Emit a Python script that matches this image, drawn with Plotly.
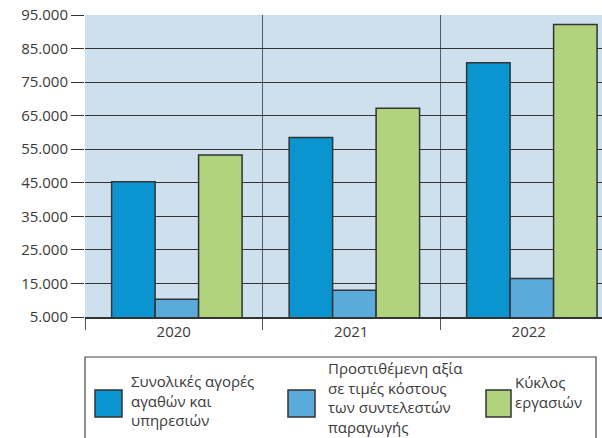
import plotly.graph_objects as go

years = ["2020", "2021", "2022"]
purchases = [45300, 58500, 80800]
value_added = [10300, 13000, 16500]
turnover = [53300, 67200, 92200]

series_names = [
    ["Συνολικές αγορές", "αγαθών και", "υπηρεσιών"],
    ["Προστιθέμενη αξία", "σε τιμές κόστους", "των συντελεστών", "παραγωγής"],
    ["Κύκλος", "εργασιών"],
]
colors = ["#0a95d0", "#5aaadb", "#b2d37d"]

y_ticks = [5000, 15000, 25000, 35000, 45000, 55000, 65000, 75000, 85000, 95000]
y_tick_labels = ["5.000", "15.000", "25.000", "35.000", "45.000",
                 "55.000", "65.000", "75.000", "85.000", "95.000"]

W, H = 602, 438
# plot area in window pixels: x 85..602 (cut off at right), y 15..317
L, R, T, B = 85, 0, 15, 438 - 317
PW, PH = W - L - R, H - T - B
CAT_PX = 177.5  # pixel width of one category in the reference
FONT = "Open Sans"
TXT = "#3a3a3a"


def px(x):
    return (x - L) / PW


def py(y):
    return (H - B - y) / PH


bar_w = 0.245
group_start = -0.35
fig = go.Figure()
for i, (vals, c, nm) in enumerate(zip([purchases, value_added, turnover], colors, series_names)):
    fig.add_trace(go.Bar(
        x=years, y=vals, name=" ".join(nm), marker_color=c,
        width=bar_w, offset=group_start + i * bar_w,
        marker_line=dict(color="#333333", width=1.5), showlegend=False,
    ))

shapes = [
    dict(type="rect", xref="paper", yref="paper", x0=px(85), x1=px(596),
         y0=py(357), y1=py(450), line=dict(color="#444444", width=1.2),
         fillcolor="rgba(0,0,0,0)", layer="above"),
]
annotations = []
sw = [(95, 122), (288, 315), (486, 511)]
tx = [129, 326, 513]
centers = [400, 397, 392]
for (x0, x1), c, t, names, cy in zip(sw, colors, tx, series_names, centers):
    shapes.append(dict(type="rect", xref="paper", yref="paper", x0=px(x0), x1=px(x1),
                       y0=py(390), y1=py(417), fillcolor=c,
                       line=dict(color="#333333", width=1.5)))
    annotations.append(dict(xref="paper", yref="paper", x=px(t), y=py(cy),
                            xanchor="left", yanchor="middle", align="left",
                            text="<br>".join(names), showarrow=False,
                            font=dict(family=FONT, size=15, color=TXT)))

fig.update_layout(
    width=W, height=H, margin=dict(l=L, r=R, t=T, b=B, autoexpand=False),
    paper_bgcolor="white", plot_bgcolor="#cee0ee",
    barmode="overlay",
    font=dict(family=FONT, size=15, color=TXT),
    shapes=shapes, annotations=annotations,
    xaxis=dict(type="category", range=[-0.5, -0.5 + PW / CAT_PX],
               tickson="boundaries", ticks="outside", ticklen=11,
               tickcolor="#555555", tickwidth=1.2, showgrid=True, gridcolor="#5a5a5a",
               gridwidth=1.2, showline=True, linecolor="#333333", linewidth=1.5,
               automargin=False,
               tickfont=dict(family=FONT, size=15, color=TXT)),
    yaxis=dict(range=[5000, 95000], tickvals=y_ticks, ticktext=y_tick_labels,
               ticks="outside", ticklen=13, tickcolor="#333333", tickwidth=1.2,
               showgrid=True, gridcolor="#333333", gridwidth=1.2, zeroline=False,
               showline=False, automargin=False, ticklabeloverflow="allow",
               tickfont=dict(family=FONT, size=15, color=TXT)),
)

fig.write_html("out.html", config={"displayModeBar": False},
               post_script="document.body.style.margin='0px';document.body.style.padding='0px';")
